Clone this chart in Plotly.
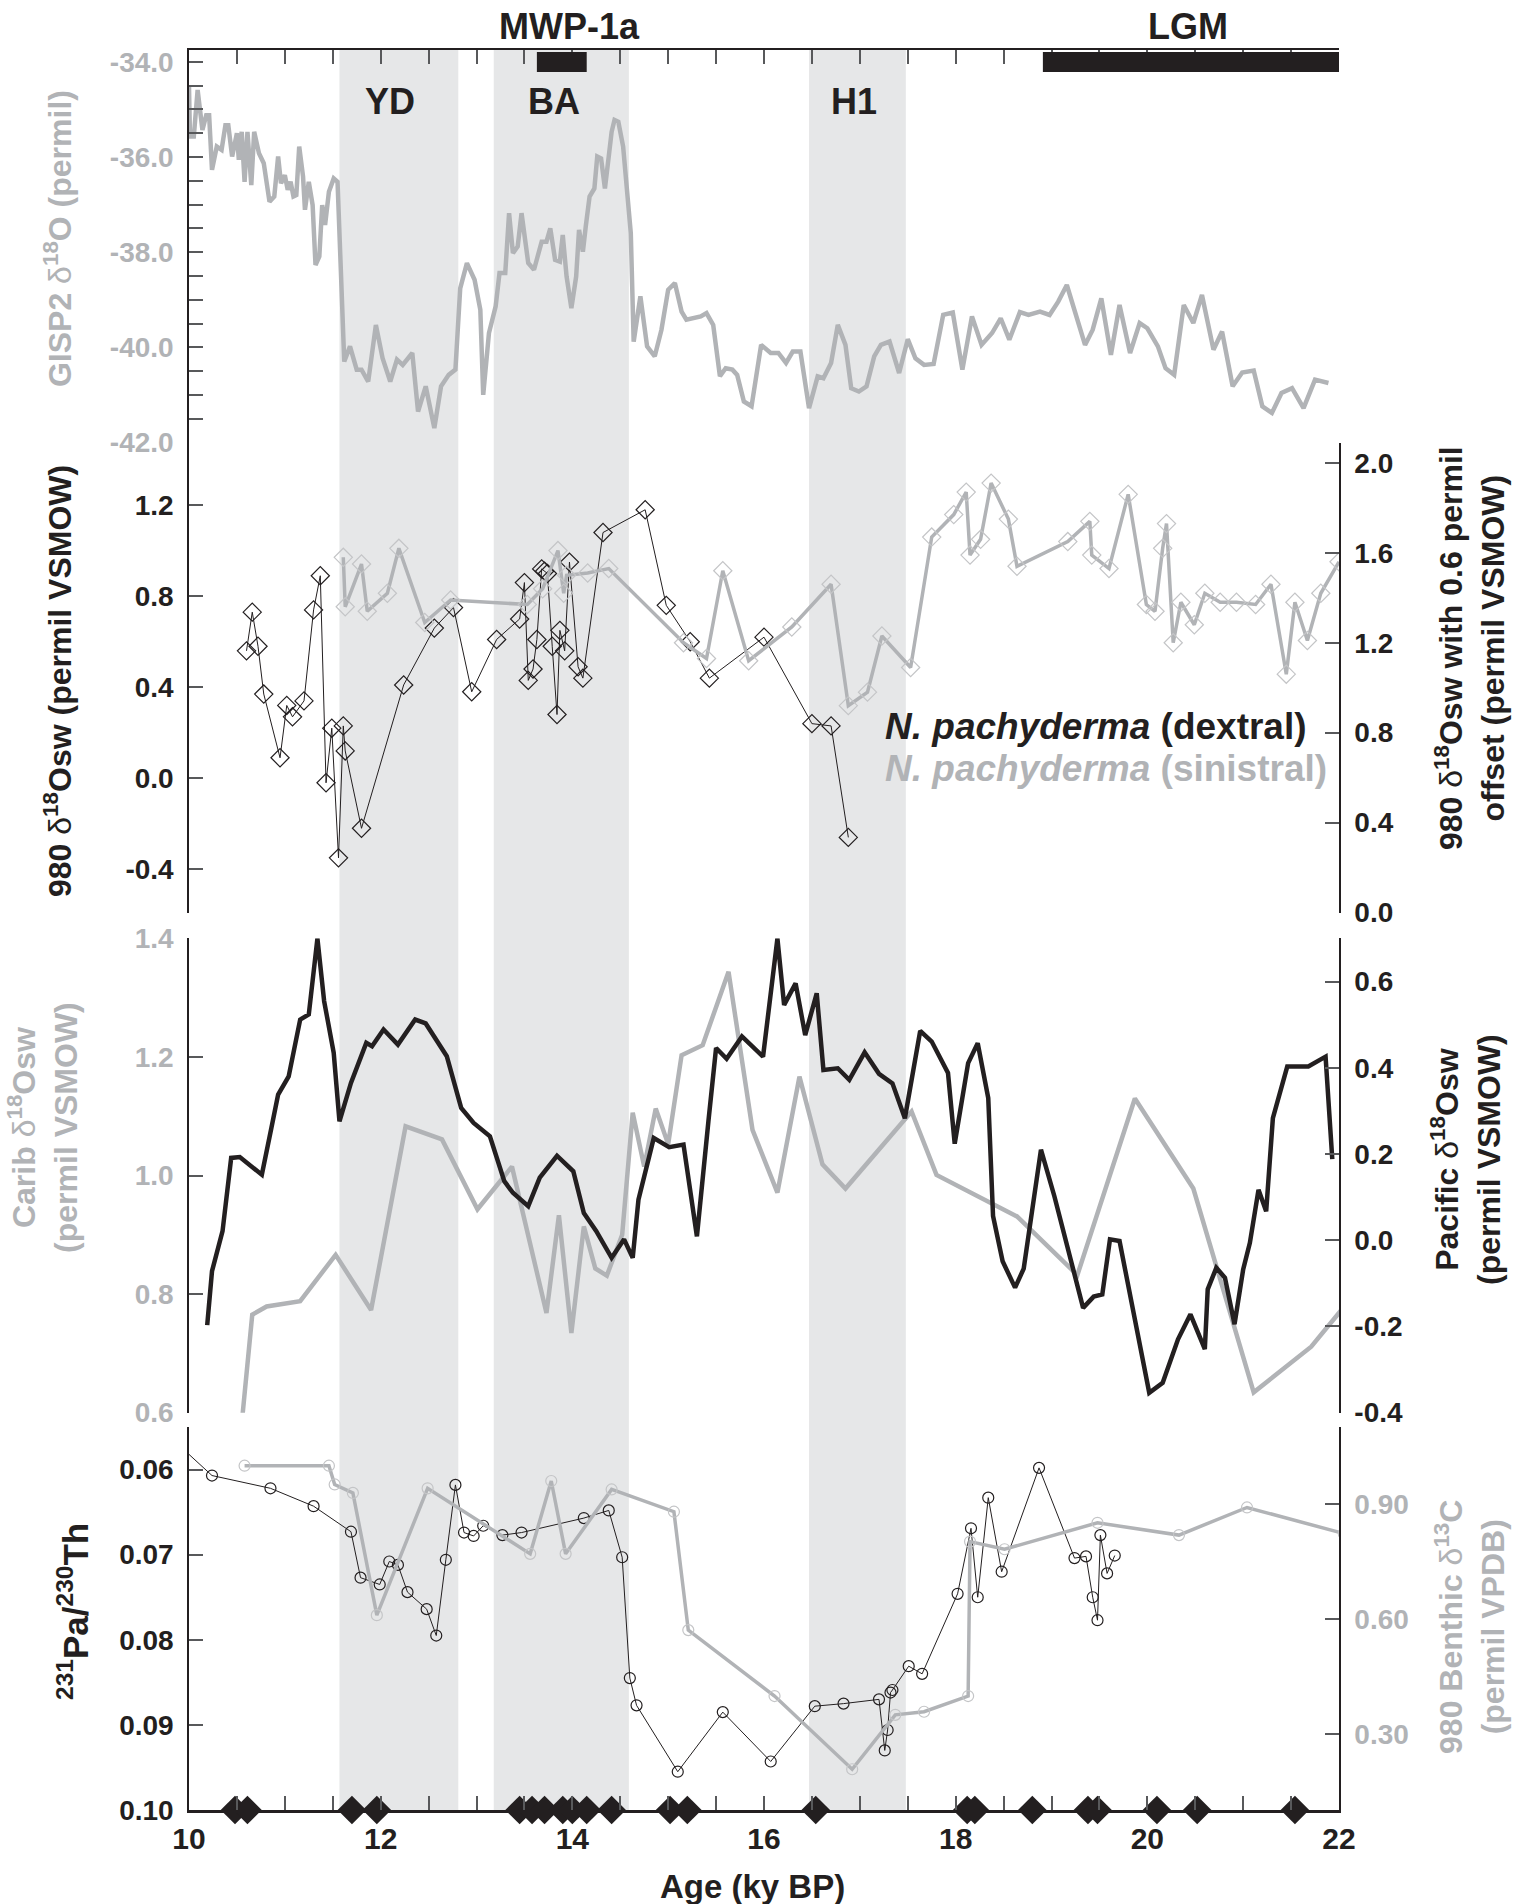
import plotly.graph_objects as go

FONT = "Liberation Sans, Arial, Helvetica, sans-serif"
BLACK = "#231f20"
GRAY = "#b1b3b6"
MGRAY = "#c4c5c7"
BAND = "#e6e7e8"
TICKC = "#58595b"

# ---------------- data ----------------
band_names = ["YD", "BA", "H1"]
band_start = [11.57, 13.18, 16.47]
band_end = [12.81, 14.59, 17.48]
band_label_x = [12.10, 13.81, 16.94]

bar_names = ["MWP-1a", "LGM"]
bar_start = [13.63, 18.91]
bar_end = [14.15, 22.0]
bar_label_x = [13.97, 20.42]

gisp2_age = [10.00,10.01,10.05,10.09,10.14,10.18,10.21,10.24,10.29,10.34,10.38,10.41,10.45,10.50,10.52,10.55,10.58,10.61,10.65,10.68,
             10.73,10.78,10.84,10.89,10.93,10.96,11.00,11.03,11.06,11.09,11.12,11.15,11.19,11.21,11.25,11.29,11.32,11.36,11.39,11.42,
             11.46,11.51,11.55,11.62,11.68,11.75,11.80,11.87,11.95,12.02,12.10,12.17,12.23,12.33,12.39,12.47,12.56,12.63,12.71,12.78,
             12.83,12.90,12.98,13.04,13.07,13.13,13.20,13.24,13.30,13.34,13.38,13.43,13.47,13.54,13.60,13.68,13.73,13.77,13.82,13.87,
             13.90,13.94,13.99,14.04,14.07,14.11,14.14,14.18,14.23,14.26,14.30,14.34,14.38,14.41,14.44,14.48,14.53,14.58,14.61,14.64,
             14.71,14.78,14.86,14.93,15.00,15.07,15.14,15.19,15.26,15.34,15.40,15.47,15.54,15.60,15.67,15.72,15.79,15.87,15.97,
             16.07,16.15,16.23,16.30,16.38,16.47,16.56,16.62,16.70,16.77,16.85,16.91,16.99,17.07,17.15,17.22,17.31,17.41,17.50,17.58,
             17.67,17.77,17.87,17.97,18.07,18.17,18.27,18.38,18.47,18.56,18.67,18.76,18.88,18.98,19.07,19.16,19.35,19.43,19.52,19.62,
             19.71,19.82,19.92,20.00,20.11,20.19,20.28,20.38,20.48,20.57,20.69,20.78,20.89,20.99,21.11,21.20,21.30,21.40,21.51,21.63,
             21.75,21.89]
gisp2_d18o = [-34.52,-35.57,-35.57,-34.59,-35.43,-35.12,-35.12,-36.27,-35.78,-35.85,-35.33,-35.33,-35.99,-35.50,-36.06,-35.47,-36.52,-35.47,-36.59,-35.47,
              -35.92,-36.13,-36.94,-36.83,-35.99,-36.55,-36.38,-36.69,-36.52,-36.83,-36.80,-35.78,-36.41,-37.11,-36.52,-37.01,-38.27,-38.09,-37.01,-37.43,
              -36.73,-36.45,-36.52,-40.30,-39.98,-40.47,-40.47,-40.72,-39.53,-40.23,-40.72,-40.26,-40.37,-40.12,-41.35,-40.82,-41.70,-40.82,-40.58,-40.47,
              -38.76,-38.23,-38.58,-39.21,-41.00,-39.70,-39.14,-38.44,-38.44,-37.18,-38.02,-37.88,-37.18,-38.23,-38.37,-37.78,-37.78,-37.50,-38.16,-38.20,
              -37.64,-38.51,-39.18,-38.51,-37.53,-37.99,-37.46,-36.83,-36.66,-35.99,-36.03,-36.66,-35.99,-35.47,-35.22,-35.26,-35.78,-36.90,-37.60,-39.88,
              -38.93,-39.98,-40.19,-39.63,-38.79,-38.65,-39.25,-39.42,-39.39,-39.35,-39.28,-39.53,-40.61,-40.44,-40.47,-40.58,-41.14,-41.24,-39.95,
              -40.12,-40.12,-40.33,-40.09,-40.09,-41.28,-40.61,-40.65,-40.33,-39.53,-39.95,-40.86,-40.93,-40.82,-40.19,-39.95,-39.88,-40.54,-39.83,-40.23,
              -40.37,-40.35,-39.32,-39.27,-40.47,-39.35,-39.95,-39.70,-39.39,-39.84,-39.26,-39.32,-39.25,-39.32,-39.04,-38.69,-39.95,-39.63,-38.97,-40.16,
              -39.11,-40.12,-39.49,-39.60,-39.98,-40.44,-40.58,-39.11,-39.49,-38.90,-40.05,-39.67,-40.82,-40.53,-40.49,-41.24,-41.38,-40.96,-40.86,-41.28,
              -40.68,-40.75]

dextral_age = [10.60,10.66,10.72,10.78,10.95,11.02,11.08,11.20,11.30,11.37,11.43,11.49,11.56,11.61,11.63,11.80,12.24,12.56,12.76,12.95,
               13.21,13.45,13.50,13.54,13.59,13.63,13.68,13.71,13.74,13.79,13.84,13.87,13.92,13.97,14.06,14.11,14.32,14.76,14.98,15.23,
               15.43,16.00,16.50,16.70,16.88]
dextral_d18osw = [0.56,0.73,0.58,0.37,0.09,0.32,0.27,0.34,0.74,0.89,-0.02,0.22,-0.35,0.23,0.12,-0.22,0.41,0.66,0.75,0.38,
                  0.61,0.70,0.86,0.43,0.48,0.61,0.92,0.91,0.90,0.58,0.28,0.65,0.56,0.95,0.49,0.44,1.08,1.18,0.76,0.60,
                  0.44,0.62,0.24,0.23,-0.26]

sinistral_age = [11.61,11.63,11.80,11.86,12.07,12.19,12.46,12.73,13.53,13.69,13.85,13.91,13.94,14.16,14.38,15.16,15.40,15.57,15.84,16.29,
                 16.70,16.88,17.08,17.23,17.53,17.75,17.98,18.11,18.15,18.26,18.37,18.55,18.64,19.17,19.40,19.42,19.60,19.80,19.99,20.08,
                 20.16,20.20,20.27,20.35,20.49,20.60,20.76,20.93,21.13,21.29,21.45,21.54,21.67,21.81,22.00]
sinistral_d18osw_offset = [1.58,1.36,1.55,1.34,1.42,1.62,1.29,1.39,1.37,1.44,1.61,1.42,1.50,1.51,1.53,1.20,1.13,1.52,1.12,1.27,
                           1.46,0.92,0.98,1.23,1.09,1.67,1.77,1.87,1.59,1.66,1.91,1.75,1.54,1.65,1.74,1.59,1.53,1.86,1.37,1.34,
                           1.62,1.73,1.20,1.38,1.28,1.42,1.38,1.38,1.37,1.46,1.06,1.38,1.21,1.42,1.56]

pacific_age = [10.19,10.24,10.35,10.44,10.53,10.68,10.76,10.86,10.93,11.04,11.16,11.25,11.34,11.41,11.51,11.57,11.69,11.85,11.91,12.03,
               12.18,12.36,12.47,12.69,12.84,12.97,13.14,13.29,13.38,13.54,13.66,13.84,14.01,14.12,14.25,14.41,14.54,14.63,14.69,14.85,
               15.01,15.16,15.30,15.42,15.50,15.61,15.77,
               15.99,16.14,16.21,16.33,16.43,16.55,16.62,16.77,16.89,17.05,17.20,17.34,17.47,17.63,17.75,17.92,17.99,18.13,18.23,18.34,
               18.39,18.49,18.62,18.71,18.89,19.03,19.33,19.44,19.53,19.61,19.71,20.02,20.16,20.32,20.45,20.60,20.63,20.72,20.81,20.91,
               21.00,21.07,21.16,21.24,21.31,21.46,21.68,21.86,21.93]
pacific_d18osw = [-0.197,-0.072,0.021,0.191,0.193,0.166,0.152,0.261,0.338,0.380,0.512,0.524,0.700,0.555,0.435,0.276,0.365,0.458,0.450,0.489,
                  0.454,0.512,0.503,0.427,0.307,0.272,0.241,0.137,0.110,0.079,0.145,0.196,0.160,0.063,0.021,-0.041,0.002,-0.041,0.094,0.237,
                  0.216,0.222,0.009,0.276,0.446,0.421,0.473,
                  0.426,0.700,0.546,0.596,0.476,0.573,0.395,0.399,0.372,0.436,0.386,0.364,0.283,0.486,0.461,0.388,0.224,0.411,0.457,0.330,
                  0.056,-0.049,-0.110,-0.066,0.210,0.102,-0.157,-0.131,-0.126,0.002,-0.002,-0.354,-0.331,-0.230,-0.172,-0.253,-0.114,-0.064,-0.087,-0.195,
                  -0.068,-0.006,0.117,0.067,0.283,0.403,0.403,0.426,0.188]

carib_age = [10.56,10.66,10.81,11.16,11.53,11.90,12.26,12.64,13.01,13.37,13.73,13.86,13.99,14.12,14.24,14.36,14.52,14.63,14.75,14.87,
             15.00,15.14,15.36,15.63,15.88,16.14,16.37,16.61,16.85,17.54,17.80,18.64,19.27,19.87,20.48,21.11,21.71,22.05]
carib_d18osw = [0.598,0.765,0.779,0.788,0.866,0.773,1.083,1.061,0.943,1.015,0.768,0.933,0.734,0.914,0.843,0.831,0.900,1.106,1.015,1.113,
                1.053,1.203,1.220,1.344,1.077,0.971,1.167,1.019,0.978,1.108,1.001,0.931,0.832,1.130,0.978,0.634,0.711,0.778]

pa_th_age = [9.95,10.24,10.85,11.30,11.69,11.79,11.99,12.09,12.18,12.28,12.48,12.58,12.68,12.78,12.87,12.97,13.07,13.27,13.47,14.12,
             14.38,14.52,14.60,14.67,15.10,15.57,16.07,16.53,16.83,17.20,17.26,17.29,17.32,17.34,17.51,17.65,18.02,18.16,18.23,18.34,
             18.48,18.87,19.24,19.36,19.43,19.48,19.51,19.58,19.66]
pa_th = [0.0577,0.0607,0.0622,0.0643,0.0673,0.0727,0.0735,0.0708,0.0712,0.0744,0.0764,0.0795,0.0706,0.0618,0.0674,0.0678,0.0666,0.0677,0.0674,0.0657,
         0.0648,0.0703,0.0845,0.0877,0.0955,0.0885,0.0943,0.0878,0.0875,0.0870,0.0930,0.0906,0.0862,0.0859,0.0831,0.0840,0.0746,0.0669,0.0750,0.0633,
         0.0720,0.0598,0.0704,0.0702,0.0750,0.0777,0.0677,0.0722,0.0701]

benthic_age = [10.58,11.46,11.52,11.71,11.96,12.49,13.56,13.78,13.93,14.41,15.06,15.21,16.11,16.92,17.37,17.67,18.13,18.15,18.51,19.48,
               20.33,21.04,22.05]
benthic_d13c = [1.000,1.000,0.951,0.929,0.610,0.941,0.770,0.960,0.770,0.938,0.880,0.571,0.399,0.208,0.350,0.358,0.399,0.802,0.782,0.851,
                0.819,0.891,0.823]

age_control = [10.48,10.61,11.70,11.96,13.45,13.58,13.71,13.90,14.00,14.15,14.41,15.02,15.20,16.54,18.12,18.20,18.80,19.38,19.48,20.10,
               20.52,21.54]

x_ticks = [10, 12, 14, 16, 18, 20, 22]
gisp2_ticks = [-34, -36, -38, -40, -42]
npach_ticks = [-0.4, 0.0, 0.4, 0.8, 1.2]
offset_ticks = [0.0, 0.4, 0.8, 1.2, 1.6, 2.0]
carib_ticks = [0.6, 0.8, 1.0, 1.2, 1.4]
pacific_ticks = [-0.4, -0.2, 0.0, 0.2, 0.4, 0.6]
pa_th_ticks = [0.06, 0.07, 0.08, 0.09, 0.10]
benthic_ticks = [0.30, 0.60, 0.90]

pairs = [(gisp2_age, gisp2_d18o), (dextral_age, dextral_d18osw), (sinistral_age, sinistral_d18osw_offset),
         (pacific_age, pacific_d18osw), (carib_age, carib_d18osw), (pa_th_age, pa_th), (benthic_age, benthic_d13c)]
for a, b in pairs:
    assert len(a) == len(b), (len(a), len(b))

# ---------------- figure ----------------
W, H = 1528, 1904
fig = go.Figure()

fig.add_trace(go.Scatter(x=gisp2_age, y=gisp2_d18o, mode="lines", xaxis="x", yaxis="y",
                         line=dict(color=GRAY, width=4.5), showlegend=False))
fig.add_trace(go.Scatter(x=[10, 22], y=[None, None], xaxis="x2", yaxis="y", mode="lines", showlegend=False))

fig.add_trace(go.Scatter(x=dextral_age, y=dextral_d18osw, mode="lines+markers", xaxis="x", yaxis="y2",
                         line=dict(color=BLACK, width=1),
                         marker=dict(symbol="diamond-open", size=14, color=BLACK, line=dict(width=1.2)),
                         showlegend=False))
fig.add_trace(go.Scatter(x=sinistral_age, y=sinistral_d18osw_offset, mode="lines+markers", xaxis="x", yaxis="y3",
                         line=dict(color=GRAY, width=3.5),
                         marker=dict(symbol="diamond-open", size=14, color=MGRAY, line=dict(width=1.2)),
                         showlegend=False))

fig.add_trace(go.Scatter(x=carib_age, y=carib_d18osw, mode="lines", xaxis="x", yaxis="y4",
                         line=dict(color=GRAY, width=4.5), showlegend=False))
fig.add_trace(go.Scatter(x=pacific_age, y=pacific_d18osw, mode="lines", xaxis="x", yaxis="y5",
                         line=dict(color=BLACK, width=4.5), showlegend=False))

fig.add_trace(go.Scatter(x=pa_th_age, y=pa_th, mode="lines+markers", xaxis="x", yaxis="y6",
                         line=dict(color=BLACK, width=1),
                         marker=dict(symbol="circle-open", size=11, color=BLACK, line=dict(width=1.2)),
                         showlegend=False))
fig.add_trace(go.Scatter(x=benthic_age, y=benthic_d13c, mode="lines+markers", xaxis="x", yaxis="y7",
                         line=dict(color=GRAY, width=3.5),
                         marker=dict(symbol="circle-open", size=11, color=MGRAY, line=dict(width=1.2)),
                         showlegend=False))
fig.add_trace(go.Scatter(x=age_control, y=[0.10] * len(age_control), mode="markers", xaxis="x", yaxis="y6",
                         marker=dict(symbol="diamond", size=22, color=BLACK), cliponaxis=False,
                         showlegend=False))


def tfont(color):
    return dict(family=FONT, size=28, color=color, weight="bold")


common = dict(ticks="inside", ticklen=14, tickwidth=1.5, tickcolor=TICKC, showline=True,
              linecolor=BLACK, linewidth=1.5, showgrid=False, zeroline=False, ticklabelstandoff=8)

shapes = []
for s, e in zip(band_start, band_end):
    shapes.append(dict(type="rect", xref="x", yref="paper", x0=s, x1=e, y0=0, y1=1,
                       fillcolor=BAND, line=dict(width=0), layer="below"))
for s, e in zip(bar_start, bar_end):
    shapes.append(dict(type="rect", xref="x", yref="paper", x0=s, x1=e, y0=0.9875, y1=0.9989,
                       fillcolor=BLACK, line=dict(width=0)))

ann = []
for name, x in zip(band_names, band_label_x):
    ann.append(dict(text="<b>%s</b>" % name, x=x, y=0.971, xref="x", yref="paper", showarrow=False,
                    xanchor="center", yanchor="middle",
                    font=dict(family=FONT, size=36, color=BLACK)))
for name, x in zip(bar_names, bar_label_x):
    ann.append(dict(text="<b>%s</b>" % name, x=x, y=1.0131, xref="x", yref="paper", showarrow=False,
                    xanchor="center", yanchor="middle",
                    font=dict(family=FONT, size=36, color=BLACK)))


def title(text, x, y, color, size=32):
    ann.append(dict(text=text, x=x, y=y, xref="paper", yref="paper", showarrow=False, textangle=-90,
                    xanchor="center", yanchor="middle", align="center",
                    font=dict(family=FONT, size=size, color=color)))


title("<b>GISP2 </b>δ<b><sup>18</sup>O (permil)</b>", -0.1139, 0.8926, GRAY)
title("<b>980 </b>δ<b><sup>18</sup>Osw (permil VSMOW)</b>", -0.1139, 0.6415, BLACK)
title("<b>980 </b>δ<b><sup>18</sup>Osw with 0.6 permil</b><br><b>offset (permil VSMOW)</b>", 1.1139, 0.6602, BLACK)
title("<b>Carib </b>δ<b><sup>18</sup>Osw</b><br><b>(permil VSMOW)</b>", -0.127, 0.3881, GRAY)
title("<b>Pacific </b>δ<b><sup>18</sup>Osw</b><br><b>(permil VSMOW)</b>", 1.1104, 0.3699, BLACK)
title("<b><sup>231</sup>Pa/<sup>230</sup>Th</b>", -0.1009, 0.1131, BLACK, size=35)
title("<b>980 Benthic </b>δ<b><sup>13</sup>C</b><br><b>(permil VPDB)</b>", 1.1139, 0.1040, GRAY)

ann.append(dict(text="<b>Age (ky BP)</b>", x=0.4904, y=-0.0432, xref="paper", yref="paper", showarrow=False,
                xanchor="center", yanchor="middle",
                font=dict(family=FONT, size=33, color=BLACK)))
ann.append(dict(text="<b><i>N. pachyderma</i> (dextral)</b>", x=0.6035, y=0.6159, xref="paper", yref="paper",
                xanchor="left", yanchor="middle", showarrow=False, font=dict(family=FONT, size=37, color=BLACK)))
ann.append(dict(text="<b><i>N. pachyderma</i> (sinistral)</b>", x=0.6035, y=0.5915, xref="paper", yref="paper",
                xanchor="left", yanchor="middle", showarrow=False, font=dict(family=FONT, size=37, color=GRAY)))

fig.update_layout(
    width=W, height=H,
    margin=dict(l=189, r=189, t=50, b=94),
    paper_bgcolor="white", plot_bgcolor="rgba(0,0,0,0)",
    showlegend=False,
    shapes=shapes, annotations=ann,
    xaxis=dict(domain=[0, 1], range=[10, 22], anchor="y6", tickvals=x_ticks,
               ticktext=[str(v) for v in x_ticks],
               tickfont=dict(family=FONT, size=30, color=BLACK, weight="bold"),
               minor=dict(dtick=0.5, tick0=10, ticks="inside", ticklen=14, tickwidth=1.5, tickcolor=TICKC, showgrid=False),
               **{**common, "linewidth": 2.5, "ticklabelstandoff": 0}),
    xaxis2=dict(overlaying="x", anchor="y", side="top", range=[10, 22], dtick=0.5, tick0=10,
                showticklabels=False, **common),
    yaxis=dict(domain=[0.7769, 1.0], range=[-42.005, -33.75], anchor="x",
               tickvals=gisp2_ticks, ticktext=["%.1f" % v for v in gisp2_ticks], tickfont=tfont(GRAY),
               minor=dict(dtick=0.5, tick0=-42, ticks="inside", ticklen=14, tickwidth=1.5, tickcolor=TICKC, showgrid=False),
               **common),
    yaxis2=dict(domain=[0.5097, 0.7769], range=[-0.592, 1.475], anchor="x",
                tickvals=npach_ticks, ticktext=["%.1f" % v for v in npach_ticks], tickfont=tfont(BLACK), **common),
    yaxis3=dict(overlaying="y2", side="right", anchor="x", range=[-0.002, 2.09],
                tickvals=offset_ticks, ticktext=["%.1f" % v for v in offset_ticks], tickfont=tfont(BLACK), **common),
    yaxis4=dict(domain=[0.2257, 0.4953], range=[0.5995, 1.4005], anchor="x",
                tickvals=carib_ticks, ticktext=["%.1f" % v for v in carib_ticks], tickfont=tfont(GRAY), **common),
    yaxis5=dict(overlaying="y4", side="right", anchor="x", range=[-0.4005, 0.7007],
                tickvals=pacific_ticks, ticktext=["%.1f" % v for v in pacific_ticks], tickfont=tfont(BLACK), **common),
    yaxis6=dict(domain=[0.0, 0.2176], range=[0.10, 0.0550], anchor="x",
                tickvals=pa_th_ticks, ticktext=["%.2f" % v for v in pa_th_ticks], tickfont=tfont(BLACK), **common),
    yaxis7=dict(overlaying="y6", side="right", anchor="x", range=[0.1017, 1.1009],
                tickvals=benthic_ticks, ticktext=["%.2f" % v for v in benthic_ticks], tickfont=tfont(GRAY), **common),
)

fig.write_html("out.html", config={"displayModeBar": False},
               post_script="document.body.style.margin='0';")
